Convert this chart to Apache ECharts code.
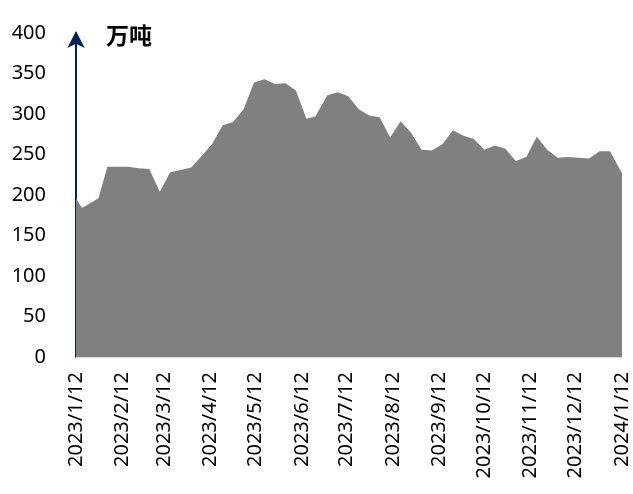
<!DOCTYPE html>
<html>
<head>
<meta charset="utf-8">
<script src="https://cdn.jsdelivr.net/npm/echarts@6/dist/echarts.min.js"></script>
<style>html,body{margin:0;padding:0;background:#fff}#c{width:633px;height:494px}</style>
</head>
<body>
<div id="c"></div>
<script>
const dates = ['2023-01-12','2023-01-16','2023-01-27','2023-02-02','2023-02-09','2023-02-16','2023-02-23','2023-03-02','2023-03-09','2023-03-16','2023-03-23','2023-03-30','2023-04-06','2023-04-13','2023-04-20','2023-04-27','2023-05-04','2023-05-11','2023-05-18','2023-05-25','2023-06-01','2023-06-08','2023-06-15','2023-06-21','2023-06-29','2023-07-06','2023-07-13','2023-07-20','2023-07-27','2023-08-03','2023-08-10','2023-08-17','2023-08-24','2023-08-31','2023-09-07','2023-09-14','2023-09-21','2023-09-28','2023-10-05','2023-10-12','2023-10-19','2023-10-26','2023-11-02','2023-11-09','2023-11-16','2023-11-23','2023-11-30','2023-12-07','2023-12-14','2023-12-21','2023-12-28','2024-01-04','2024-01-12'];
const values = [196,184,196,235,235,235,233,232,204,228,231,234,248,263,286,290,306,339,343,337,338,329,294,297,323,327,322,306,298,296,271,291,277,256,255,263,280,273,269,256,261,257,242,247,272,256,246,247,246,245,254,254,227];
const tickDates = ['2023-01-12','2023-02-12','2023-03-12','2023-04-12','2023-05-12','2023-06-12','2023-07-12','2023-08-12','2023-09-12','2023-10-12','2023-11-12','2023-12-12','2024-01-12'];
const yTicks = {min: 0, max: 400, interval: 50};
const unitLabel = '万吨';

function ts(s){ const p = s.split('-').map(Number); return new Date(p[0], p[1]-1, p[2]).getTime(); }
function fmt(v){ const d = new Date(v); return d.getFullYear() + '/' + (d.getMonth()+1) + '/' + d.getDate(); }

const chart = echarts.init(document.getElementById('c'));
chart.setOption({
  animation: false,
  title: {
    text: unitLabel, left: 101, top: 19,
    textStyle: {fontSize: 23, fontWeight: 'bold', color: '#000', fontFamily: 'Noto Sans CJK SC'}
  },
  grid: {left: 76, right: 11, top: 33, bottom: 137},
  xAxis: {
    type: 'value',
    min: ts(tickDates[0]),
    max: ts(tickDates[tickDates.length-1]),
    axisLine: {show: true, lineStyle: {color: '#d9d9d9', width: 1}},
    axisTick: {show: false},
    splitLine: {show: false},
    axisLabel: {
      customValues: tickDates.map(ts),
      rotate: 90,
      fontSize: 20,
      color: '#000',
      fontFamily: 'Noto Sans',
      margin: 15,
      formatter: (v) => fmt(v),
      showMinLabel: true,
      showMaxLabel: true
    }
  },
  yAxis: {
    type: 'value',
    min: yTicks.min, max: yTicks.max, interval: yTicks.interval,
    axisLine: {show: true, lineStyle: {color: '#002060', width: 2}, symbol: ['none','arrow'], symbolSize: [13, 17], symbolOffset: [0, 2]},
    axisTick: {show: false},
    splitLine: {show: false},
    axisLabel: {fontSize: 20, color: '#000', fontFamily: 'Noto Sans', margin: 30}
  },
  series: [{
    type: 'line',
    data: dates.map((d, i) => [ts(d), values[i]]),
    showSymbol: false,
    lineStyle: {width: 0, color: '#808080'},
    areaStyle: {color: '#808080', opacity: 1},
    z: 1
  }]
});
</script>
</body>
</html>
